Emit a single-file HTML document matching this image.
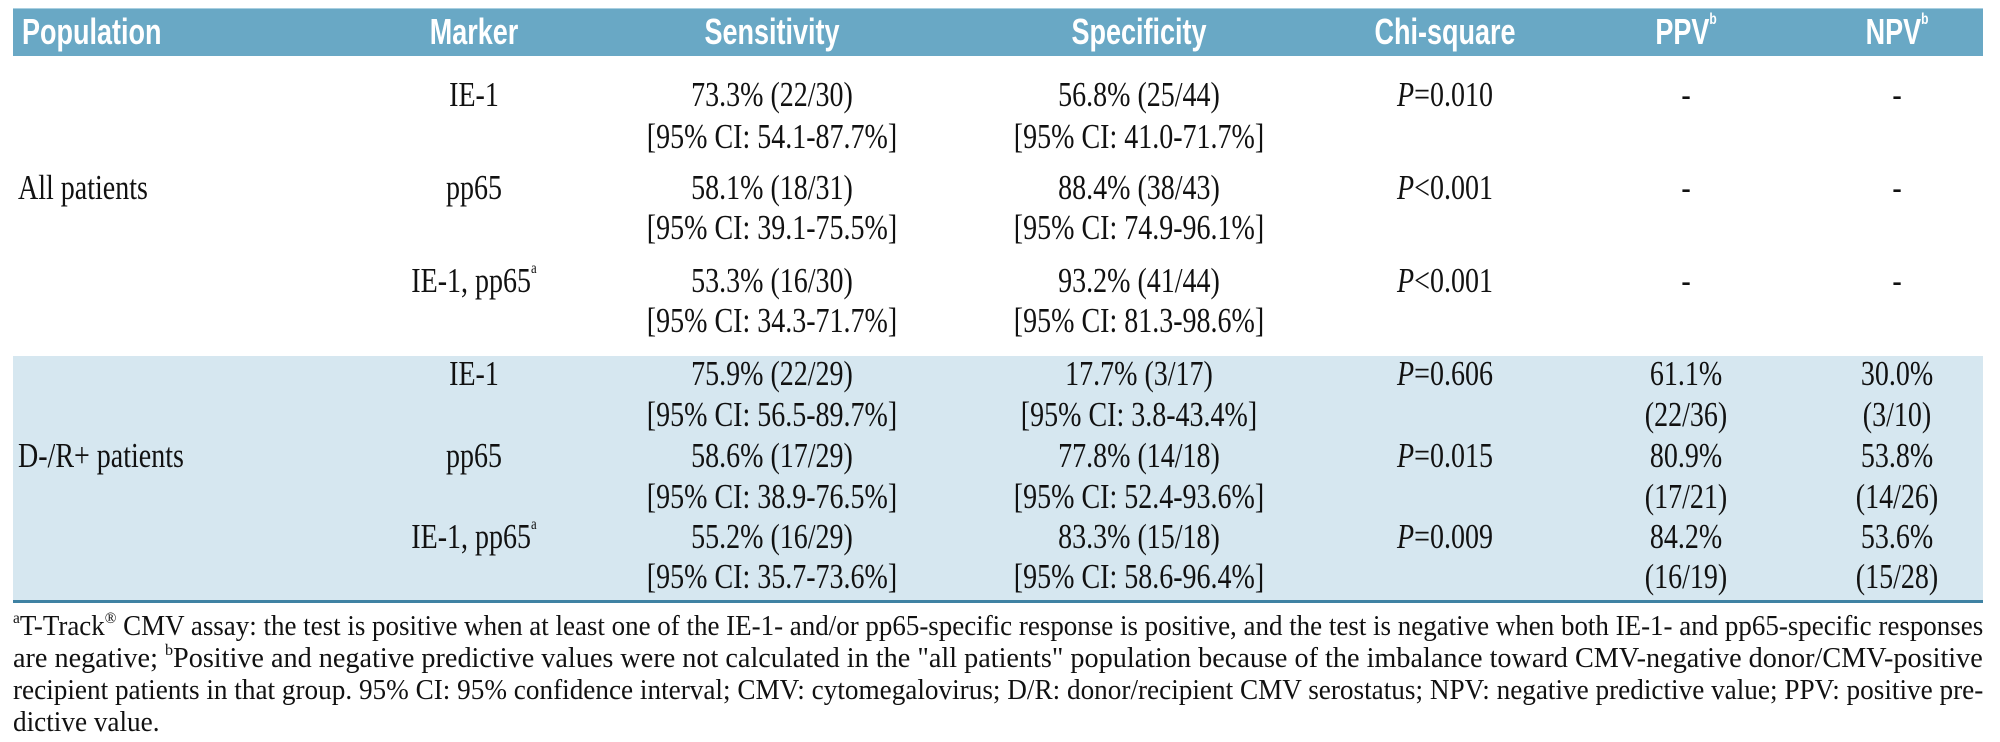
<!DOCTYPE html>
<html><head><meta charset="utf-8">
<style>
body{margin:0;width:2000px;height:742px;background:#fff;position:relative;overflow:hidden;font-family:"Liberation Serif",serif;color:#111}
.hdr{position:absolute;left:13px;top:8px;width:1970px;height:47px;background:#69a8c5;border-top:1px solid #a9cfe0}
.sec{position:absolute;left:13px;top:356px;width:1970px;height:245px;background:#d6e7f0}
.rule{position:absolute;left:13px;top:600px;width:1970px;height:3px;background:#3f82a3}
.h{position:absolute;top:12px;height:40px;line-height:40px;font-family:"Liberation Sans",sans-serif;font-weight:bold;font-size:36px;color:#fff;white-space:nowrap}
.t{position:absolute;height:40px;line-height:40px;font-size:35px;white-space:nowrap}
.c{transform:translateX(-50%) scaleX(.8)}
.l{transform:scaleX(.8);transform-origin:left center}
.fn{position:absolute;left:13px;font-size:28px;line-height:32px;white-space:nowrap;transform-origin:left top}
sup{font-size:16px;vertical-align:top;line-height:0;position:relative;top:8px}
</style></head><body>
<div class="hdr"></div>
<div class="sec"></div>
<div class="rule"></div>

<div class="h" style="left:22px;transform:scaleX(.75);transform-origin:left center">Population</div>
<div class="h" style="left:474px;transform:translateX(-50%) scaleX(.75)">Marker</div>
<div class="h" style="left:772px;transform:translateX(-50%) scaleX(.75)">Sensitivity</div>
<div class="h" style="left:1139px;transform:translateX(-50%) scaleX(.75)">Specificity</div>
<div class="h" style="left:1445px;transform:translateX(-50%) scaleX(.75)">Chi-square</div>
<div class="h" style="left:1686px;transform:translateX(-50%) scaleX(.75)">PPV<sup>b</sup></div>
<div class="h" style="left:1897px;transform:translateX(-50%) scaleX(.75)">NPV<sup>b</sup></div>

<div id="cells"></div>

<div class="fn" style="top:611px"><sup>a</sup>T-Track<sup>®</sup> CMV assay: the test is positive when at least one of the IE-1- and/or pp65-specific response is positive, and the test is negative when both IE-1- and pp65-specific responses</div>
<div class="fn" style="top:643px">are negative; <sup>b</sup>Positive and negative predictive values were not calculated in the "all patients" population because of the imbalance toward CMV-negative donor/CMV-positive</div>
<div class="fn" style="top:675px">recipient patients in that group. 95% CI: 95% confidence interval; CMV: cytomegalovirus; D/R: donor/recipient CMV serostatus; NPV: negative predictive value; PPV: positive pre-</div>
<div class="fn" style="top:707px">dictive value.</div>

<script>
const cols=[474,772,1139,1445,1686,1897];
const rowY=[[95,137],[188,228],[281,321],[374,415],[456,497],[537,577]];
const rows=[
 ["IE-1","73.3% (22/30)|[95% CI: 54.1-87.7%]","56.8% (25/44)|[95% CI: 41.0-71.7%]","<i>P</i>=0.010","-","-"],
 ["pp65","58.1% (18/31)|[95% CI: 39.1-75.5%]","88.4% (38/43)|[95% CI: 74.9-96.1%]","<i>P</i>&lt;0.001","-","-"],
 ["IE-1, pp65<sup>a</sup>","53.3% (16/30)|[95% CI: 34.3-71.7%]","93.2% (41/44)|[95% CI: 81.3-98.6%]","<i>P</i>&lt;0.001","-","-"],
 ["IE-1","75.9% (22/29)|[95% CI: 56.5-89.7%]","17.7% (3/17)|[95% CI: 3.8-43.4%]","<i>P</i>=0.606","61.1%|(22/36)","30.0%|(3/10)"],
 ["pp65","58.6% (17/29)|[95% CI: 38.9-76.5%]","77.8% (14/18)|[95% CI: 52.4-93.6%]","<i>P</i>=0.015","80.9%|(17/21)","53.8%|(14/26)"],
 ["IE-1, pp65<sup>a</sup>","55.2% (16/29)|[95% CI: 35.7-73.6%]","83.3% (15/18)|[95% CI: 58.6-96.4%]","<i>P</i>=0.009","84.2%|(16/19)","53.6%|(15/28)"]
];
const host=document.getElementById('cells');
function put(x,y,html,center){
 const d=document.createElement('div');
 d.className='t '+(center?'c':'l');
 
 
 d.style.left=x+'px';d.style.top=(y-20)+'px';
 d.innerHTML=html;host.appendChild(d);
}
rows.forEach((r,i)=>{
 r.forEach((v,j)=>{
  const parts=v.split('|');
  if(parts.length===1) put(cols[j],rowY[i][0],parts[0],true);
  else parts.forEach((p,k)=>put(cols[j],rowY[i][k],p,true));
 });
});
put(18,188,"All patients",false);
put(18,456,"D-/R+ patients",false);
const fns=document.querySelectorAll('.fn');
let s=1;
fns.forEach((f,i)=>{
 if(i<3){s=1970/f.offsetWidth;}
 f.style.transform='scaleX('+s+')';
});
</script>
</body></html>
